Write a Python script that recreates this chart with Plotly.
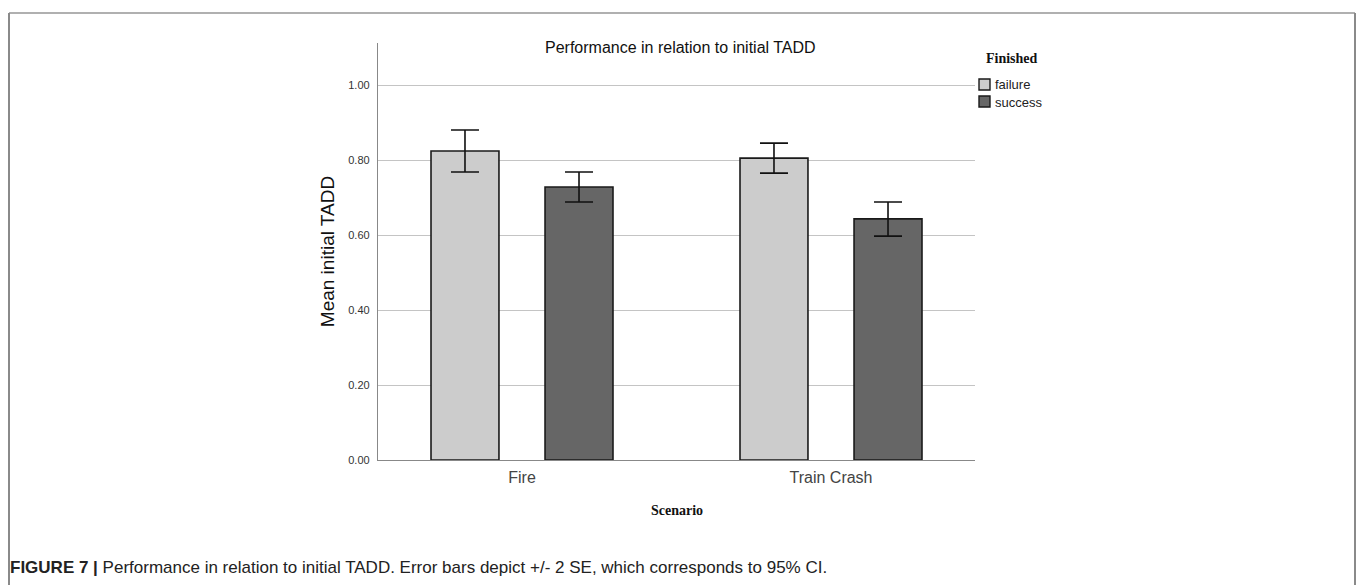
import plotly.graph_objects as go

# Mean initial TADD by scenario and finish outcome, with +/- 2 SE bounds
scenarios = ["Fire", "Train Crash"]
failure_mean = [0.824, 0.805]
failure_hi = [0.880, 0.845]
failure_lo = [0.768, 0.765]
success_mean = [0.728, 0.643]
success_hi = [0.768, 0.688]
success_lo = [0.688, 0.597]
y_ticks = [0.0, 0.2, 0.4, 0.6, 0.8, 1.0]
y_tick_text = ["0.00", "0.20", "0.40", "0.60", "0.80", "1.00"]

W, H = 1357, 585
L, R, T, B = 378, 975, 43, 460  # plot area in pixels


def px(x):
    return (x - L) / (R - L)


def py(y):
    return (B - y) / (B - T)


def err(mean, hi, lo):
    return dict(type="data", symmetric=False,
                array=[h - m for h, m in zip(hi, mean)],
                arrayminus=[m - l for m, l in zip(mean, lo)],
                color="#111111", thickness=1.6, width=14)


fig = go.Figure()
fig.add_bar(name="failure", x=scenarios, y=failure_mean,
            error_y=err(failure_mean, failure_hi, failure_lo),
            marker=dict(color="#cccccc", line=dict(color="#1a1a1a", width=1.6)))
fig.add_bar(name="success", x=scenarios, y=success_mean,
            error_y=err(success_mean, success_hi, success_lo),
            marker=dict(color="#666666", line=dict(color="#1a1a1a", width=1.6)))

fig.update_layout(
    width=W, height=H,
    margin=dict(l=L, r=W - R, t=T, b=H - B),
    paper_bgcolor="white", plot_bgcolor="white",
    barmode="group", bargap=0.262, bargroupgap=0.404,
    showlegend=False,
    font=dict(family="Liberation Sans, Arial, sans-serif", color="#222222"),
)
fig.update_xaxes(
    type="category", range=[-0.466, 1.466],
    showline=True, linecolor="#888888", linewidth=1.3,
    showgrid=False, ticks="", ticklabelstandoff=3,
    tickfont=dict(size=16, color="#444444"),
)
fig.update_yaxes(
    range=[0, 1.112], tickvals=y_ticks, ticktext=y_tick_text,
    showline=True, linecolor="#888888", linewidth=1.3,
    showgrid=True, gridcolor="#c4c4c4", gridwidth=1.3, zeroline=False,
    ticks="", ticklabelstandoff=5,
    tickfont=dict(size=11, color="#333333"),
    title=dict(text="Mean initial TADD", font=dict(size=19, color="#111111"),
               standoff=8),
)

annotations = [
    dict(text="Performance in relation to initial TADD", x=px(680), y=py(47),
         font=dict(size=16, color="#111111")),
    dict(text="<b>Scenario</b>", x=px(677), y=py(511),
         font=dict(family="Liberation Serif, serif", size=14, color="#111111")),
    dict(text="<b>Finished</b>", x=px(1012), y=py(59),
         font=dict(family="Liberation Serif, serif", size=14, color="#111111")),
    dict(text="failure", x=px(993), y=py(84), xanchor="left",
         font=dict(size=13, color="#222222")),
    dict(text="success", x=px(993), y=py(102), xanchor="left",
         font=dict(size=13, color="#222222")),
    dict(text="<b>FIGURE 7 |</b> Performance in relation to initial TADD. "
              "Error bars depict +/- 2 SE, which corresponds to 95% CI.",
         x=px(8), y=py(567), xanchor="left",
         font=dict(size=17, color="#222222")),
]
for a in annotations:
    a.update(xref="paper", yref="paper", showarrow=False)
    a.setdefault("xanchor", "center")
    a["yanchor"] = "middle"
fig.update_layout(annotations=annotations)

shapes = [
    # legend swatches
    dict(type="rect", x0=px(979), x1=px(990), y0=py(79), y1=py(90),
         fillcolor="#cccccc", line=dict(color="#1a1a1a", width=1.4)),
    dict(type="rect", x0=px(979), x1=px(990), y0=py(96), y1=py(107),
         fillcolor="#666666", line=dict(color="#1a1a1a", width=1.4)),
    # page frame
    dict(type="line", x0=px(9), x1=px(1355), y0=py(13), y1=py(13),
         line=dict(color="#b0b0b0", width=2)),
    dict(type="line", x0=px(9), x1=px(9), y0=py(13), y1=py(590),
         line=dict(color="#8a8a8a", width=2)),
    dict(type="line", x0=px(1355), x1=px(1355), y0=py(13), y1=py(590),
         line=dict(color="#8a8a8a", width=2)),
]
for s in shapes:
    s.update(xref="paper", yref="paper")
fig.update_layout(shapes=shapes)

fig.write_html("out.html")
